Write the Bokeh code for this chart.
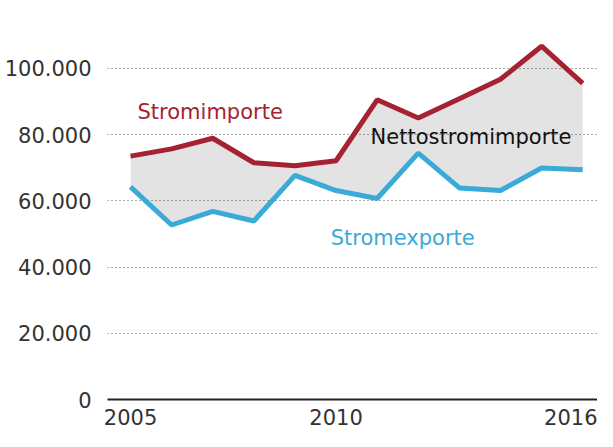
from bokeh.plotting import figure
from bokeh.models import Range1d, ColumnDataSource, FixedTicker, Label
from bokeh.embed import file_html
from bokeh.resources import INLINE

years = [2005, 2006, 2007, 2008, 2009, 2010, 2011, 2012, 2013, 2014, 2015, 2016]
imports = [73500, 75700, 78900, 71500, 70600, 72100, 90500, 85000, 90800, 96700, 106700, 95500]
exports = [64200, 52700, 56800, 53900, 67700, 63100, 60700, 74400, 63900, 63100, 69900, 69400]
y_ticks = [0, 20000, 40000, 60000, 80000, 100000]
y_tick_labels = ["0", "20.000", "40.000", "60.000", "80.000", "100.000"]
x_ticks = [2005, 2010, 2016]

RED = "#a52232"
BLUE = "#3aaad8"
FONT = "DejaVu Sans"

src = ColumnDataSource(dict(x=years, imp=imports, exp=exports))

p = figure(width=597, height=431, output_backend="svg", toolbar_location=None,
           x_range=Range1d(2004.44, 2016.36), y_range=Range1d(0, 120500),
           min_border_left=107, min_border_right=0, min_border_top=0, min_border_bottom=32)
p.outline_line_color = None
p.background_fill_color = "white"
p.border_fill_color = "white"

p.varea(x="x", y1="exp", y2="imp", source=src, fill_color="black", fill_alpha=0.11)
p.line(x="x", y="imp", source=src, line_color=RED, line_width=5)
p.line(x="x", y="exp", source=src, line_color=BLUE, line_width=5)

p.xgrid.grid_line_color = None
p.ygrid.ticker = FixedTicker(ticks=y_ticks[1:])
p.ygrid.grid_line_color = "#555555"
p.ygrid.grid_line_dash = "1 3"
p.ygrid.grid_line_width = 1.2

p.yaxis.ticker = FixedTicker(ticks=y_ticks)
p.yaxis.major_label_overrides = {t: l for t, l in zip(y_ticks, y_tick_labels)}
p.yaxis.axis_line_color = None
p.yaxis.major_tick_line_color = None
p.yaxis.minor_tick_line_color = None
p.yaxis.major_label_text_font = FONT
p.yaxis.major_label_text_font_size = "21px"
p.yaxis.major_label_text_color = "#333333"
p.yaxis.major_label_standoff = 10

p.xaxis.ticker = FixedTicker(ticks=x_ticks)
p.xaxis.axis_line_color = "#222222"
p.xaxis.axis_line_width = 2
p.xaxis.major_tick_line_color = None
p.xaxis.minor_tick_line_color = None
p.xaxis.major_label_text_font = FONT
p.xaxis.major_label_text_font_size = "21px"
p.xaxis.major_label_text_color = "#333333"
p.xaxis.major_label_standoff = 3

p.add_layout(Label(x=2005.17, y=86700, text="Stromimporte", text_color=RED,
                   text_font=FONT, text_font_size="21px", text_baseline="middle"))
p.add_layout(Label(x=2010.84, y=79200, text="Nettostromimporte", text_color="#111111",
                   text_font=FONT, text_font_size="21px", text_baseline="middle"))
p.add_layout(Label(x=2009.87, y=48900, text="Stromexporte", text_color=BLUE,
                   text_font=FONT, text_font_size="21px", text_baseline="middle"))

open("out.html", "w").write(file_html(p, INLINE))
